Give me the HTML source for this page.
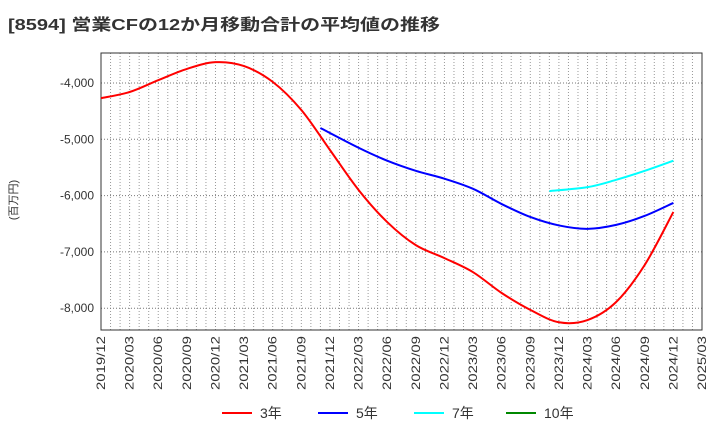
<!DOCTYPE html>
<html><head><meta charset="utf-8"><style>
body{margin:0;background:#fff;font-family:"Liberation Sans","Noto Sans CJK JP",sans-serif}
svg text{font-family:"Liberation Sans","Noto Sans CJK JP",sans-serif}
</style></head><body>
<svg id="c" width="720" height="440" xmlns="http://www.w3.org/2000/svg">
<text x="8" y="30" font-size="16" font-weight="bold" fill="#333" textLength="432" lengthAdjust="spacingAndGlyphs">[8594]  営業CFの12か月移動合計の平均値の推移</text>
<text transform="translate(17,200) rotate(-90)" font-size="11" fill="#333" text-anchor="middle">(百万円)</text>
<g id="grid"></g><g id="axes"></g><g id="series"></g><g id="legend"></g>
</svg>
<script>
const tickLabels=["2019/12","2020/03","2020/06","2020/09","2020/12","2021/03","2021/06","2021/09","2021/12","2022/03","2022/06","2022/09","2022/12","2023/03","2023/06","2023/09","2023/12","2024/03","2024/06","2024/09","2024/12","2025/03"];
const yTicks=[-4000,-5000,-6000,-7000,-8000];
const s3Months=[0,3,6,9,12,15,18,21,24,27,30,33,36,39,42,45,48,51,54,57,60];
const s3=[-4270,-4160,-3950,-3750,-3630,-3700,-3980,-4480,-5190,-5900,-6470,-6880,-7110,-7360,-7730,-8030,-8250,-8210,-7890,-7230,-6290];
const s5Months=[23,27,30,33,36,39,42,45,48,51,54,57,60];
const s5=[-4800,-5150,-5380,-5560,-5700,-5880,-6150,-6380,-6530,-6590,-6520,-6360,-6130];
const s7Months=[47,51,54,57,60];
const s7=[-5920,-5850,-5720,-5560,-5380];
const NS="http://www.w3.org/2000/svg";
const L=101,R=702,T=53,B=330;
const xm=m=>L+m*(R-L)/63;
const y=v=>83+(-4000-v)/1000*56.3;
function mk(t,a,p){const e=document.createElementNS(NS,t);for(const k in a)e.setAttribute(k,a[k]);p.appendChild(e);return e;}
const grid=document.getElementById('grid'),axes=document.getElementById('axes'),ser=document.getElementById('series'),leg=document.getElementById('legend');
for(let m=1;m<63;m++){const xx=xm(m);
const g=mk('line',{x1:xx,x2:xx,y1:T,y2:B,stroke:'#999','stroke-dasharray':'1,2','stroke-width':1},grid);

}
yTicks.forEach(v=>{const g=mk('line',{x1:L,x2:R,y1:y(v),y2:y(v),stroke:'#777','stroke-dasharray':'1,2'},grid);


const t=mk('text',{x:L-7,y:y(v)+4,'text-anchor':'end','font-size':12,fill:'#333'},axes);t.textContent=v.toLocaleString('en-US');

});
const fr=mk('rect',{x:L,y:T,width:R-L,height:B-T,fill:'none',stroke:'#333','stroke-width':1},axes);


tickLabels.forEach((lb,i)=>{const t=mk('text',{transform:`translate(${xm(i*3)+4},${B+6}) rotate(-90)`,'text-anchor':'end','font-size':12,fill:'#333',textLength:54,lengthAdjust:'spacingAndGlyphs'},axes);t.textContent=lb;

});
function path(vals,months){const p=vals.map((v,i)=>[xm(months[i]),y(v)]);let d=`M${p[0][0]},${p[0][1]}`;
for(let i=0;i<p.length-1;i++){const p0=p[i-1]||p[i],p1=p[i],p2=p[i+1],p3=p[i+2]||p2;
d+=`C${p1[0]+(p2[0]-p0[0])/6},${p1[1]+(p2[1]-p0[1])/6} ${p2[0]-(p3[0]-p1[0])/6},${p2[1]-(p3[1]-p1[1])/6} ${p2[0]},${p2[1]}`;}return d;}
[[s3,s3Months,'#f00','series-3y'],[s5,s5Months,'#00f','series-5y'],[s7,s7Months,'#0ff','series-7y']].forEach(([v,m,c,n])=>{
const e=mk('path',{d:path(v,m),fill:'none',stroke:c,'stroke-width':2},ser);

});
[['3年','#f00',222],['5年','#00f',318],['7年','#0ff',414],['10年','#080',506]].forEach(([lb,c,xx])=>{
const l=mk('line',{x1:xx,x2:xx+30,y1:413,y2:413,stroke:c,'stroke-width':2},leg);


const t=mk('text',{x:xx+38,y:418,'font-size':14,fill:'#333'},leg);t.textContent=lb;

});
</script>
</body></html>
